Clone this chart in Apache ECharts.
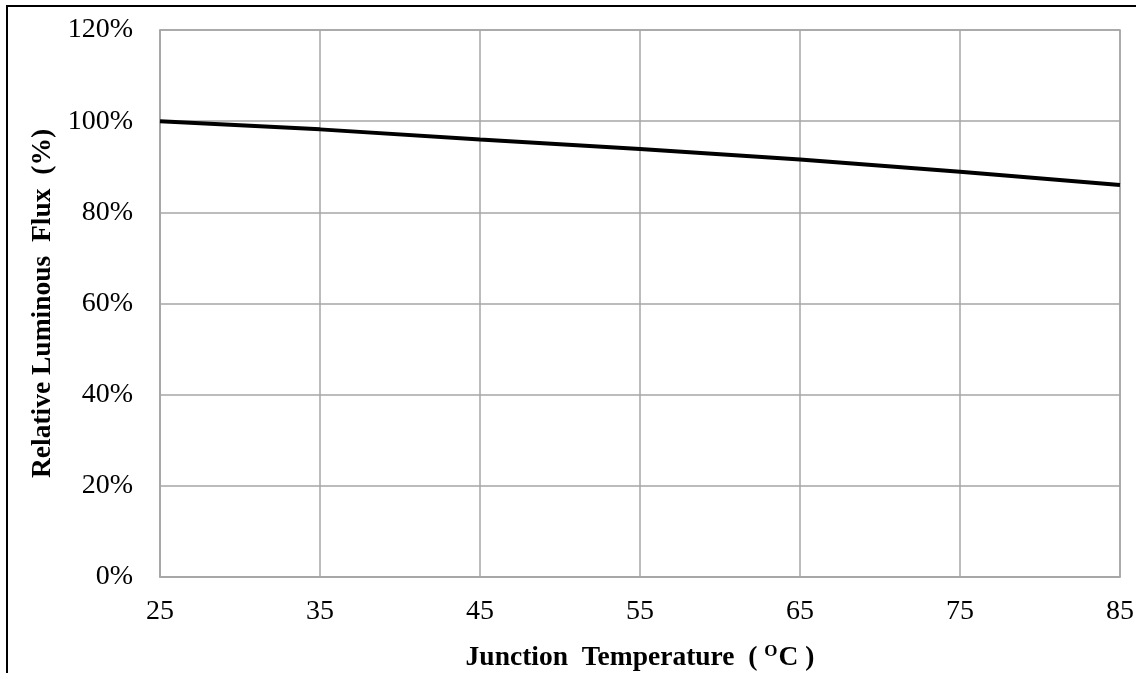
<!DOCTYPE html>
<html>
<head>
<meta charset="utf-8">
<script src="https://cdn.jsdelivr.net/npm/echarts@6/dist/echarts.min.js"></script>
<style>
    html, body { margin: 0; padding: 0; background: #fff; }
    #chart { width: 1136px; height: 673px; }
</style>
</head>
<body>
<div id="chart"></div>
<script>
// junction temperature (°C)
var temps = ['25', '35', '45', '55', '65', '75', '85']
// relative luminous flux (%)
var flux = [100, 98.2, 96.0, 93.9, 91.6, 88.9, 86.0]
var yTicks = { min: 0, max: 120, step: 20 }

var font = '"Liberation Serif", "Times New Roman", serif'
var gridColor = '#a6a6a6'

var option = {
    animation: false,
    backgroundColor: '#fff',
    graphic: [{
        type: 'rect',
        shape: { x: 7, y: 6, width: 1300, height: 800 },
        style: { fill: 'none', stroke: '#000', lineWidth: 2 },
        silent: true
    }],
    grid: {
        left: 160,
        right: 16,
        top: 30,
        bottom: 96,
        outerBoundsMode: 'none',
        show: true,
        borderColor: gridColor,
        borderWidth: 1.5
    },
    xAxis: {
        type: 'category',
        data: temps,
        boundaryGap: false,
        name: '{t|Junction  Temperature  ( }{s|O}{t|C )}',
        nameLocation: 'middle',
        nameGap: 66,
        nameTextStyle: {
            rich: {
                t: { fontFamily: font, fontWeight: 'bold', fontSize: 27.5, color: '#000' },
                s: { fontFamily: font, fontWeight: 'bold', fontSize: 17, color: '#000', verticalAlign: 'bottom', padding: [0, 1, 12, 0] }
            }
        },
        axisLine: { lineStyle: { color: gridColor, width: 1.5 } },
        axisTick: { show: false },
        axisLabel: { fontFamily: font, fontSize: 28, color: '#000', margin: 21 },
        splitLine: { show: true, lineStyle: { color: gridColor, width: 1.5 } }
    },
    yAxis: {
        type: 'value',
        min: yTicks.min,
        max: yTicks.max,
        interval: yTicks.step,
        name: 'Relative Luminous  Flux  (%)',
        nameLocation: 'middle',
        nameRotate: 90,
        nameGap: 98,
        nameTextStyle: { fontFamily: font, fontWeight: 'bold', fontSize: 27.5, color: '#000' },
        axisLine: { show: true, lineStyle: { color: gridColor, width: 1.5 } },
        axisTick: { show: false },
        axisLabel: { fontFamily: font, fontSize: 28, color: '#000', margin: 27, formatter: '{value}%' },
        splitLine: { show: true, lineStyle: { color: gridColor, width: 1.5 } }
    },
    series: [{
        type: 'line',
        data: flux,
        symbol: 'none',
        lineStyle: { color: '#000', width: 4 }
    }]
}

var myChart = echarts.init(document.getElementById('chart'))
myChart.setOption(option)
</script>
</body>
</html>
